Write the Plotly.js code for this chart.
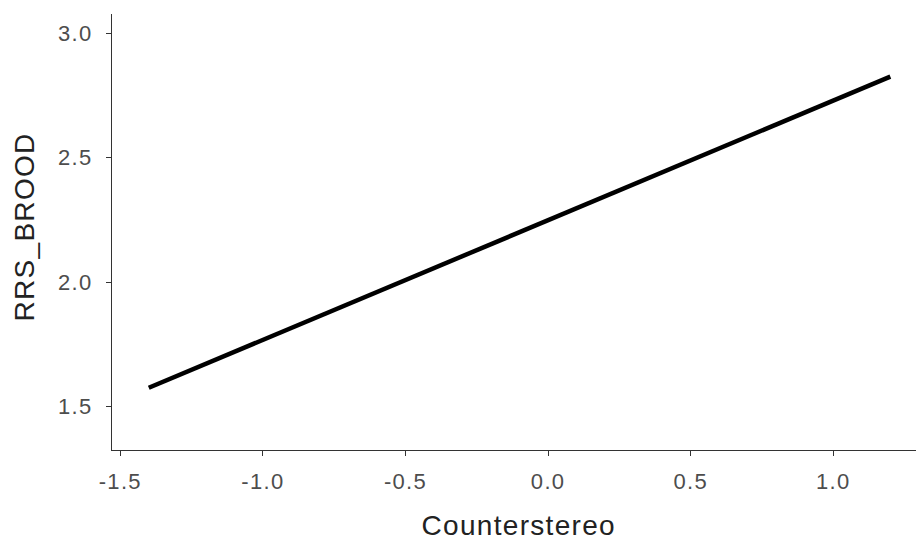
<!DOCTYPE html>
<html>
<head>
<meta charset="utf-8">
<script src="https://cdn.plot.ly/plotly-3.0.1.min.js"></script>
<style>
html,body{margin:0;padding:0;background:#fff;}
#chart{width:916px;height:540px;}
#chart svg text{letter-spacing:1.3px;}
</style>
</head>
<body>
<div id="chart"></div>
<script>
const xValues = [-1.4, 1.2];
const yValues = [1.576, 2.826];
const xTicks = [-1.5, -1.0, -0.5, 0.0, 0.5, 1.0];
const xTickLabels = ["-1.5", "-1.0", "-0.5", "0.0", "0.5", "1.0"];
const yTicks = [1.5, 2.0, 2.5, 3.0];
const yTickLabels = ["1.5", "2.0", "2.5", "3.0"];
const xLabel = "Counterstereo";
const yLabel = "RRS_BROOD";

const trace = {
  x: xValues, y: yValues, type: 'scatter', mode: 'lines',
  line: {color: '#000000', width: 4.5}, hoverinfo: 'skip'
};
const font = 'Liberation Sans, Arial, sans-serif';
const titleFont = {family: font, size: 28, color: '#222222'};
const layout = {
  width: 916, height: 540,
  margin: {l: 112, r: 0, t: 14, b: 90},
  paper_bgcolor: '#ffffff', plot_bgcolor: '#ffffff',
  showlegend: false,
  font: {family: font},
  xaxis: {
    range: [-1.529, 1.29], tickmode: 'array', tickvals: xTicks, ticktext: xTickLabels,
    showgrid: false, zeroline: false, showline: true, linecolor: '#333333', linewidth: 1.1,
    ticks: 'outside', ticklen: 5, tickwidth: 1.1, tickcolor: '#333333',
    ticklabelstandoff: 6,
    tickfont: {family: font, size: 22, color: '#4d4d4d'}
  },
  yaxis: {
    range: [1.326, 3.0775], tickmode: 'array', tickvals: yTicks, ticktext: yTickLabels,
    showgrid: false, zeroline: false, showline: true, linecolor: '#333333', linewidth: 1.1,
    ticks: 'outside', ticklen: 5, tickwidth: 1.1, tickcolor: '#333333',
    ticklabelstandoff: 9,
    tickfont: {family: font, size: 22, color: '#4d4d4d'}
  },
  annotations: [
    {text: xLabel, xref: 'paper', yref: 'paper', x: 0.506, y: -0.1743,
     xanchor: 'center', yanchor: 'middle', showarrow: false, font: titleFont},
    {text: yLabel, xref: 'paper', yref: 'paper', x: -0.1082, y: 0.51, textangle: -90,
     xanchor: 'center', yanchor: 'middle', showarrow: false, font: titleFont}
  ]
};
Plotly.newPlot('chart', [trace], layout, {displayModeBar: false, staticPlot: true});
</script>
</body>
</html>
